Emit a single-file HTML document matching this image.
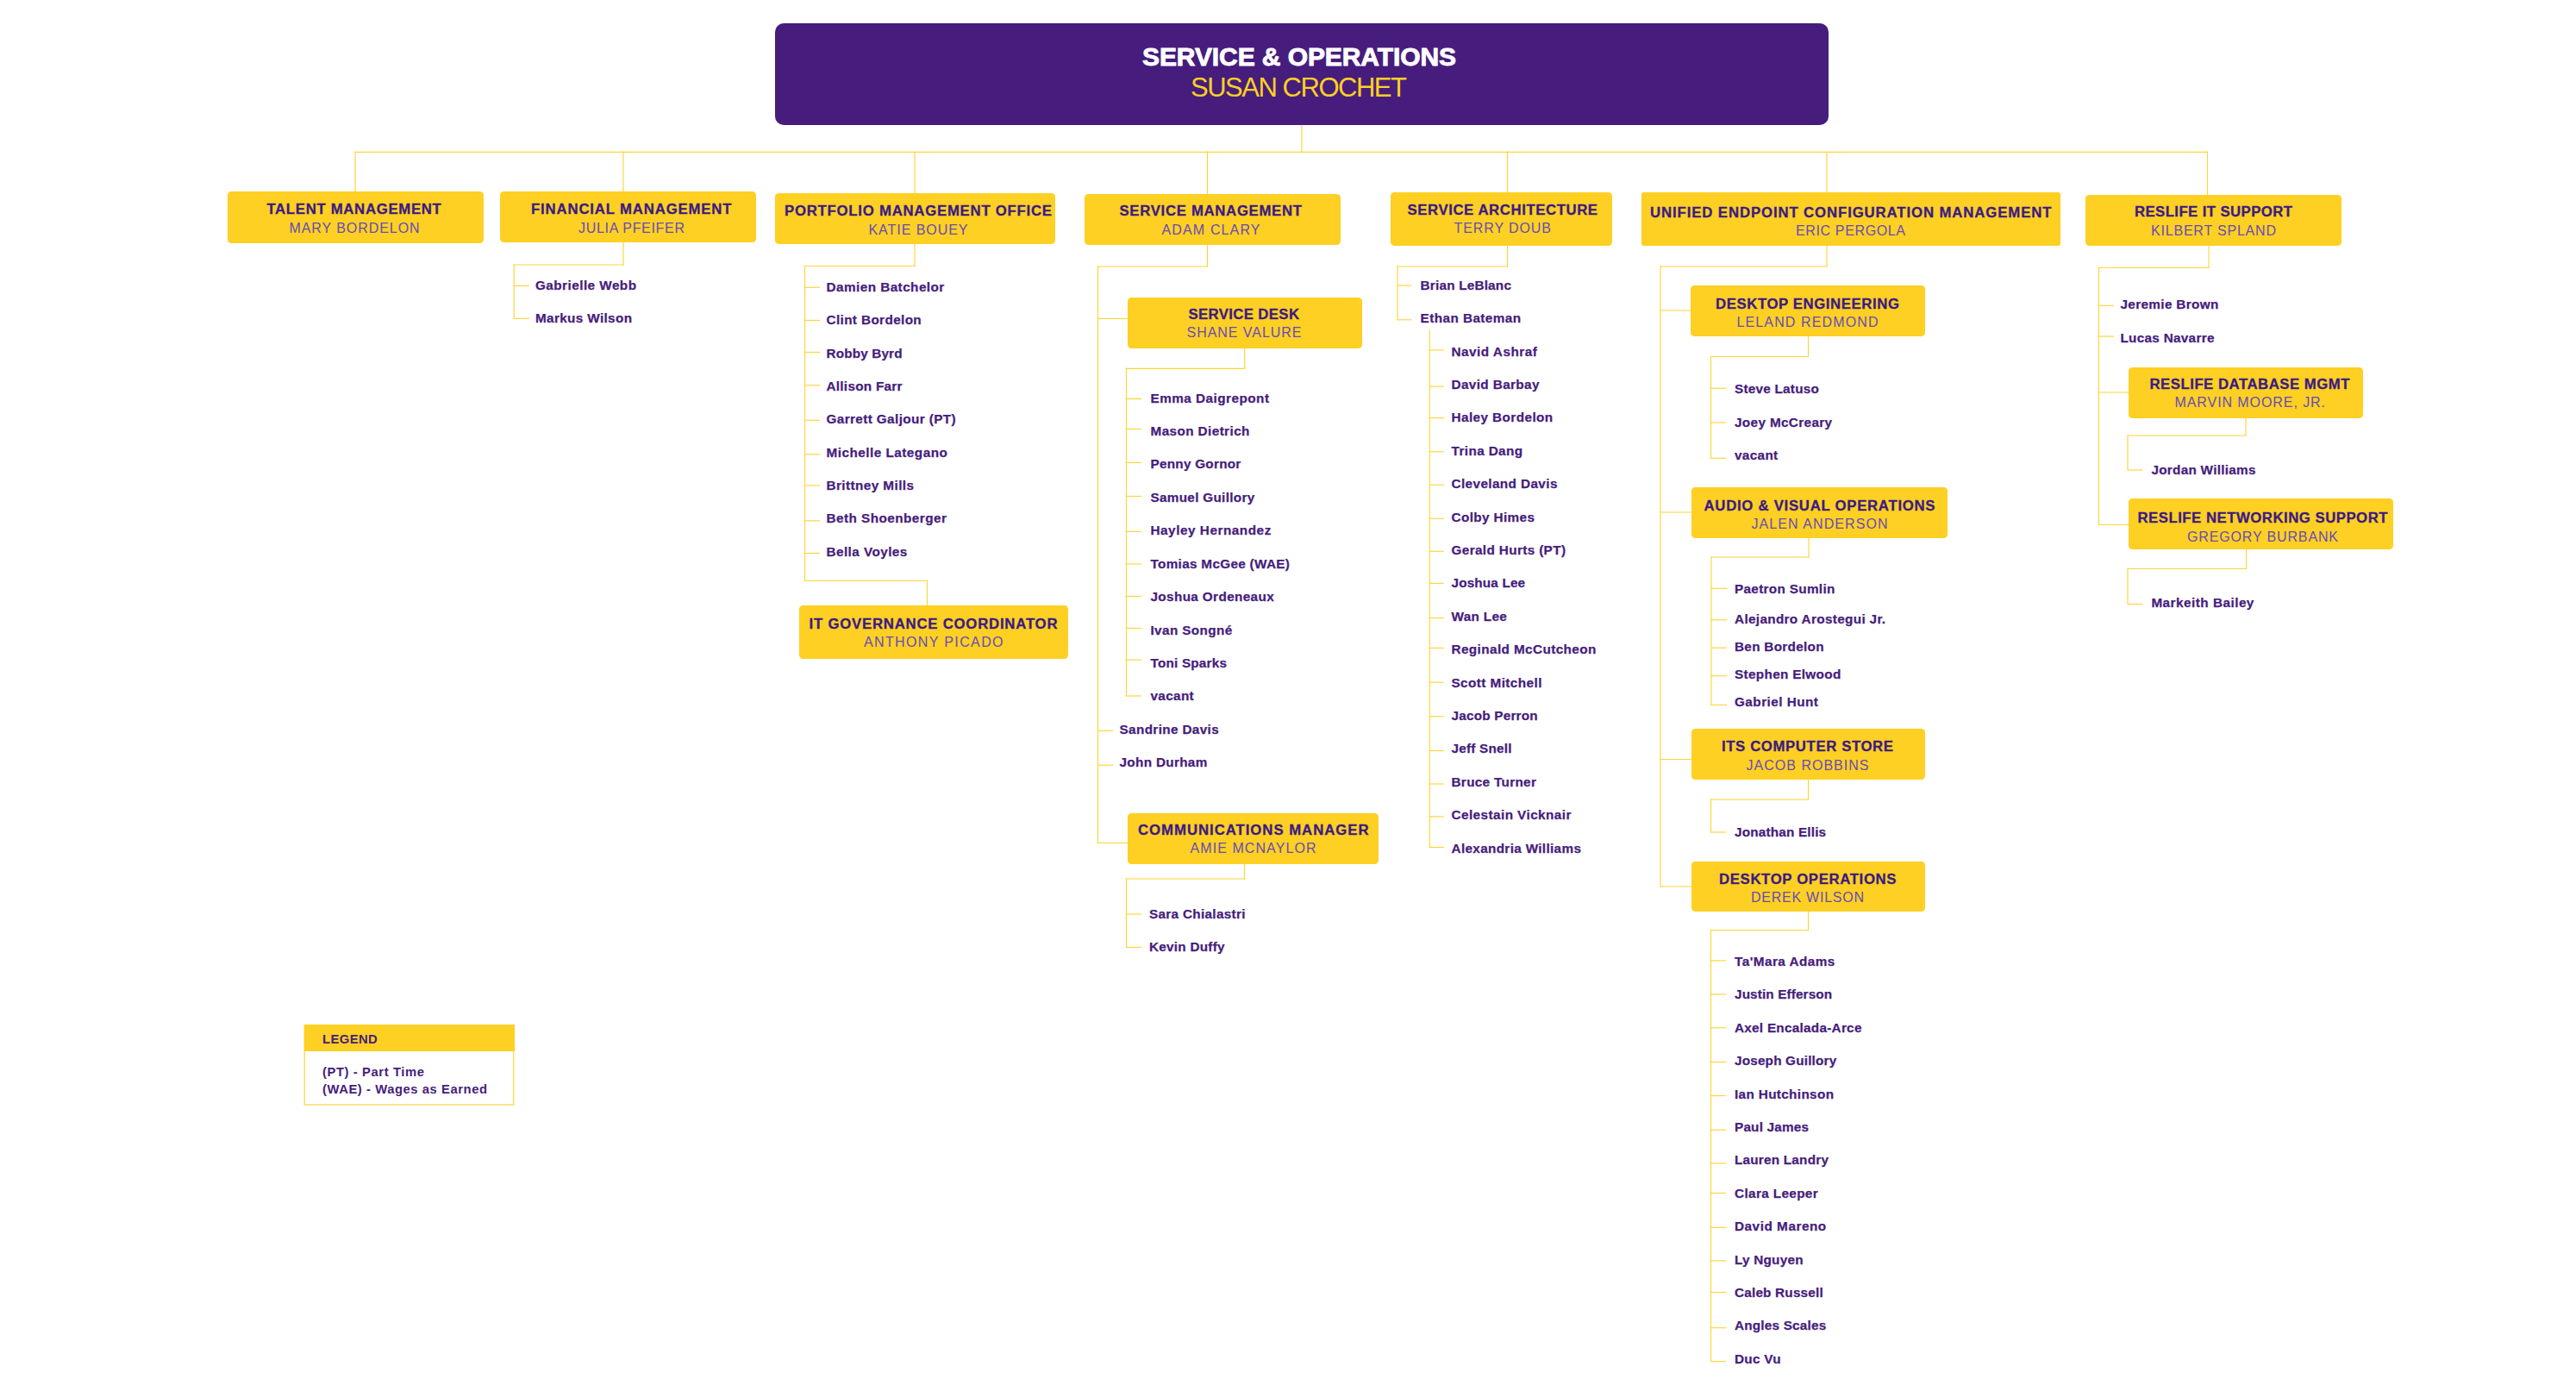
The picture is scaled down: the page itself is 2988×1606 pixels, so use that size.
<!DOCTYPE html>
<html lang="en"><head><meta charset="utf-8"><title>Service &amp; Operations Org Chart</title>
<style>
html,body{margin:0;padding:0;background:#fff}
body{width:2988px;height:1606px;position:relative;overflow:hidden;font-family:"Liberation Sans",sans-serif}
#lines{position:absolute;left:0;top:0}
.b{position:absolute;background:#FDD023;border-radius:4.5px}
.top{position:absolute;background:#461D7C;border-radius:10px}
.t{position:absolute;white-space:nowrap;line-height:1;margin:0}
.legend{position:absolute;left:352.5px;top:1188px;width:244px;height:93.6px}
.legend .h{position:absolute;left:0;top:0;width:244px;height:30.9px;background:#FDD023}
</style></head><body>

<svg id="lines" width="2988" height="1606" viewBox="0 0 2988 1606">
<g stroke="#FDD436" stroke-width="1.15" stroke-linecap="square" fill="none">
<line x1="1510" y1="145" x2="1510" y2="176.3"/>
<line x1="412" y1="176.3" x2="2560.5" y2="176.3"/>
<line x1="412" y1="176" x2="412" y2="222"/>
<line x1="723" y1="176" x2="723" y2="222"/>
<line x1="1061" y1="176" x2="1061" y2="224"/>
<line x1="1400.5" y1="176" x2="1400.5" y2="225"/>
<line x1="1748.5" y1="176" x2="1748.5" y2="223"/>
<line x1="2119" y1="176" x2="2119" y2="223"/>
<line x1="2560.5" y1="176" x2="2560.5" y2="226"/>
<line x1="723" y1="281" x2="723" y2="307"/>
<line x1="596.2" y1="307" x2="723" y2="307"/>
<line x1="596.2" y1="307" x2="596.2" y2="369.5"/>
<line x1="1061" y1="283" x2="1061" y2="308.5"/>
<line x1="933.5" y1="308.5" x2="1061" y2="308.5"/>
<line x1="933.5" y1="308.5" x2="933.5" y2="673.5"/>
<line x1="933.5" y1="673.5" x2="1075.5" y2="673.5"/>
<line x1="1075.5" y1="673.5" x2="1075.5" y2="702"/>
<line x1="1400.5" y1="283.5" x2="1400.5" y2="309"/>
<line x1="1273.5" y1="309" x2="1400.5" y2="309"/>
<line x1="1273.5" y1="309" x2="1273.5" y2="977.5"/>
<line x1="1273.5" y1="369.5" x2="1308" y2="369.5"/>
<line x1="1273.5" y1="977.5" x2="1308" y2="977.5"/>
<line x1="1443.6" y1="403.5" x2="1443.6" y2="427.3"/>
<line x1="1306.5" y1="427.3" x2="1443.6" y2="427.3"/>
<line x1="1306.5" y1="427.3" x2="1306.5" y2="807"/>
<line x1="1443.5" y1="1001.5" x2="1443.5" y2="1019"/>
<line x1="1306.5" y1="1019" x2="1443.5" y2="1019"/>
<line x1="1306.5" y1="1019" x2="1306.5" y2="1098.5"/>
<line x1="1748.5" y1="284.5" x2="1748.5" y2="309"/>
<line x1="1621" y1="309" x2="1748.5" y2="309"/>
<line x1="1621" y1="309" x2="1621" y2="370.8"/>
<line x1="1658.3" y1="383.2" x2="1658.3" y2="982.5"/>
<line x1="2119" y1="284.5" x2="2119" y2="309"/>
<line x1="1926" y1="309" x2="2119" y2="309"/>
<line x1="1926" y1="309" x2="1926" y2="1028"/>
<line x1="1926" y1="360" x2="1961" y2="360"/>
<line x1="1926" y1="594" x2="1962" y2="594"/>
<line x1="1926" y1="880.5" x2="1961.5" y2="880.5"/>
<line x1="1926" y1="1028" x2="1961.5" y2="1028"/>
<line x1="2097.5" y1="390" x2="2097.5" y2="413.5"/>
<line x1="1984.5" y1="413.5" x2="2097.5" y2="413.5"/>
<line x1="1984.5" y1="413.5" x2="1984.5" y2="531.3"/>
<line x1="2098" y1="623.5" x2="2098" y2="646"/>
<line x1="1985" y1="646" x2="2098" y2="646"/>
<line x1="1985" y1="646" x2="1985" y2="817.4"/>
<line x1="2097.5" y1="903.5" x2="2097.5" y2="927"/>
<line x1="1984.5" y1="927" x2="2097.5" y2="927"/>
<line x1="1984.5" y1="927" x2="1984.5" y2="965"/>
<line x1="2097.5" y1="1057" x2="2097.5" y2="1078.5"/>
<line x1="1984.5" y1="1078.5" x2="2097.5" y2="1078.5"/>
<line x1="1984.5" y1="1078.5" x2="1984.5" y2="1578.5"/>
<line x1="2562" y1="284.5" x2="2562" y2="310.5"/>
<line x1="2434.5" y1="310.5" x2="2562" y2="310.5"/>
<line x1="2434.5" y1="310.5" x2="2434.5" y2="608.5"/>
<line x1="2434.5" y1="455" x2="2469" y2="455"/>
<line x1="2434.5" y1="608.5" x2="2469" y2="608.5"/>
<line x1="2605" y1="484.5" x2="2605" y2="505"/>
<line x1="2468" y1="505" x2="2605" y2="505"/>
<line x1="2468" y1="505" x2="2468" y2="545"/>
<line x1="2605.5" y1="636.5" x2="2605.5" y2="659.5"/>
<line x1="2468" y1="659.5" x2="2605.5" y2="659.5"/>
<line x1="2468" y1="659.5" x2="2468" y2="700.5"/>
</g>
<g stroke="#FDD22E" stroke-width="1.1" fill="none">
<line x1="596.2" y1="331.5" x2="614" y2="331.5"/>
<line x1="596.2" y1="369.3" x2="614" y2="369.3"/>
<line x1="933.5" y1="333.3" x2="951" y2="333.3"/>
<line x1="933.5" y1="371.4" x2="951" y2="371.4"/>
<line x1="933.5" y1="408.4" x2="951" y2="408.4"/>
<line x1="933.5" y1="446.8" x2="951" y2="446.8"/>
<line x1="933.5" y1="487.3" x2="951" y2="487.3"/>
<line x1="933.5" y1="526.8" x2="951" y2="526.8"/>
<line x1="933.5" y1="562.9" x2="951" y2="562.9"/>
<line x1="933.5" y1="603.9" x2="951" y2="603.9"/>
<line x1="933.5" y1="641.5" x2="951" y2="641.5"/>
<line x1="1273.5" y1="847.3" x2="1291.5" y2="847.3"/>
<line x1="1273.5" y1="887.2" x2="1291.5" y2="887.2"/>
<line x1="1306.5" y1="462.5" x2="1324" y2="462.5"/>
<line x1="1306.5" y1="497.4" x2="1324" y2="497.4"/>
<line x1="1306.5" y1="536.4" x2="1324" y2="536.4"/>
<line x1="1306.5" y1="575.4" x2="1324" y2="575.4"/>
<line x1="1306.5" y1="616.4" x2="1324" y2="616.4"/>
<line x1="1306.5" y1="653.9" x2="1324" y2="653.9"/>
<line x1="1306.5" y1="691.5" x2="1324" y2="691.5"/>
<line x1="1306.5" y1="728.5" x2="1324" y2="728.5"/>
<line x1="1306.5" y1="765.1" x2="1324" y2="765.1"/>
<line x1="1306.5" y1="807" x2="1324" y2="807"/>
<line x1="1306.5" y1="1060" x2="1324" y2="1060"/>
<line x1="1306.5" y1="1098.5" x2="1324" y2="1098.5"/>
<line x1="1621" y1="331" x2="1637.5" y2="331"/>
<line x1="1621" y1="370.8" x2="1637.5" y2="370.8"/>
<line x1="1658.3" y1="405.9" x2="1674.7" y2="405.9"/>
<line x1="1658.3" y1="448.1" x2="1674.7" y2="448.1"/>
<line x1="1658.3" y1="484.6" x2="1674.7" y2="484.6"/>
<line x1="1658.3" y1="523.8" x2="1674.7" y2="523.8"/>
<line x1="1658.3" y1="562.2" x2="1674.7" y2="562.2"/>
<line x1="1658.3" y1="601.2" x2="1674.7" y2="601.2"/>
<line x1="1658.3" y1="639.3" x2="1674.7" y2="639.3"/>
<line x1="1658.3" y1="676.4" x2="1674.7" y2="676.4"/>
<line x1="1658.3" y1="716.6" x2="1674.7" y2="716.6"/>
<line x1="1658.3" y1="751.4" x2="1674.7" y2="751.4"/>
<line x1="1658.3" y1="791.2" x2="1674.7" y2="791.2"/>
<line x1="1658.3" y1="830.7" x2="1674.7" y2="830.7"/>
<line x1="1658.3" y1="870.5" x2="1674.7" y2="870.5"/>
<line x1="1658.3" y1="909" x2="1674.7" y2="909"/>
<line x1="1658.3" y1="946.9" x2="1674.7" y2="946.9"/>
<line x1="1658.3" y1="982.5" x2="1674.7" y2="982.5"/>
<line x1="1984.5" y1="450.2" x2="2002" y2="450.2"/>
<line x1="1984.5" y1="490" x2="2002" y2="490"/>
<line x1="1984.5" y1="531.3" x2="2002" y2="531.3"/>
<line x1="1985" y1="682.3" x2="2003" y2="682.3"/>
<line x1="1985" y1="718.8" x2="2003" y2="718.8"/>
<line x1="1985" y1="751.2" x2="2003" y2="751.2"/>
<line x1="1985" y1="783.7" x2="2003" y2="783.7"/>
<line x1="1985" y1="817.4" x2="2003" y2="817.4"/>
<line x1="1984.5" y1="965" x2="2002" y2="965"/>
<line x1="1984.5" y1="1113.9" x2="2002" y2="1113.9"/>
<line x1="1984.5" y1="1153" x2="2002" y2="1153"/>
<line x1="1984.5" y1="1191.8" x2="2002" y2="1191.8"/>
<line x1="1984.5" y1="1231.5" x2="2002" y2="1231.5"/>
<line x1="1984.5" y1="1270.6" x2="2002" y2="1270.6"/>
<line x1="1984.5" y1="1310.2" x2="2002" y2="1310.2"/>
<line x1="1984.5" y1="1349" x2="2002" y2="1349"/>
<line x1="1984.5" y1="1383.5" x2="2002" y2="1383.5"/>
<line x1="1984.5" y1="1423.3" x2="2002" y2="1423.3"/>
<line x1="1984.5" y1="1461.9" x2="2002" y2="1461.9"/>
<line x1="1984.5" y1="1498.6" x2="2002" y2="1498.6"/>
<line x1="1984.5" y1="1539.7" x2="2002" y2="1539.7"/>
<line x1="1984.5" y1="1578.7" x2="2002" y2="1578.7"/>
<line x1="2434.5" y1="354.3" x2="2452" y2="354.3"/>
<line x1="2434.5" y1="390" x2="2452" y2="390"/>
<line x1="2468" y1="545" x2="2485.5" y2="545"/>
<line x1="2468" y1="700.5" x2="2485.5" y2="700.5"/>
</g><rect x="353.2" y="1188.7" width="242.6" height="92.3" fill="none" stroke="#FDD648" stroke-width="1.3"/></svg>
<div class="top" style="left:899px;top:27px;width:1222px;height:118px"></div>
<div class="b" style="left:264px;top:222.3px;width:297px;height:59.3px"></div>
<div class="b" style="left:580.3px;top:222.3px;width:296.7px;height:59.1px"></div>
<div class="b" style="left:899px;top:224px;width:325px;height:59px"></div>
<div class="b" style="left:1257.5px;top:225px;width:297px;height:58.5px"></div>
<div class="b" style="left:1612.5px;top:223px;width:257.5px;height:61.5px"></div>
<div class="b" style="left:1903.5px;top:223px;width:486px;height:61.5px;border-radius:2.3px"></div>
<div class="b" style="left:2419px;top:226px;width:296.5px;height:58.5px"></div>
<div class="b" style="left:927px;top:702px;width:311.5px;height:61.5px"></div>
<div class="b" style="left:1308px;top:345px;width:271.5px;height:58.5px"></div>
<div class="b" style="left:1308px;top:943px;width:291px;height:58.5px"></div>
<div class="b" style="left:1961px;top:331px;width:272px;height:59px"></div>
<div class="b" style="left:1962px;top:565px;width:296.5px;height:58.5px"></div>
<div class="b" style="left:1961.5px;top:845px;width:271.5px;height:58.5px"></div>
<div class="b" style="left:1961.5px;top:998.5px;width:271.5px;height:58.5px"></div>
<div class="b" style="left:2469px;top:426px;width:272px;height:58.5px"></div>
<div class="b" style="left:2469px;top:577.5px;width:307px;height:59px"></div>
<div class="legend"><div class="h"></div></div>
<div class="t" style="left:1325.00px;top:51.10px;font-size:30px;font-weight:700;color:#fff;letter-spacing:-0.086px;-webkit-text-stroke:0.9px #fff;">SERVICE &amp; OPERATIONS</div>
<div class="t" style="left:1381.00px;top:85.55px;font-size:31px;font-weight:400;color:#FDD023;letter-spacing:-1.475px;">SUSAN CROCHET</div>
<div class="t" style="left:309.40px;top:234.72px;font-size:16.75px;font-weight:700;color:#3C1A82;letter-spacing:0.689px;-webkit-text-stroke:0.3px #3C1A82;">TALENT MANAGEMENT</div>
<div class="t" style="left:335.40px;top:256.95px;font-size:16px;font-weight:400;color:#674BB6;letter-spacing:0.942px;">MARY BORDELON</div>
<div class="t" style="left:616.00px;top:235.02px;font-size:16.75px;font-weight:700;color:#3C1A82;letter-spacing:0.842px;-webkit-text-stroke:0.3px #3C1A82;">FINANCIAL MANAGEMENT</div>
<div class="t" style="left:671.00px;top:256.95px;font-size:16px;font-weight:400;color:#674BB6;letter-spacing:0.691px;">JULIA PFEIFER</div>
<div class="t" style="left:910.00px;top:236.72px;font-size:16.75px;font-weight:700;color:#3C1A82;letter-spacing:0.757px;-webkit-text-stroke:0.3px #3C1A82;">PORTFOLIO MANAGEMENT OFFICE</div>
<div class="t" style="left:1007.50px;top:258.65px;font-size:16px;font-weight:400;color:#674BB6;letter-spacing:0.948px;">KATIE BOUEY</div>
<div class="t" style="left:1298.50px;top:237.22px;font-size:16.75px;font-weight:700;color:#3C1A82;letter-spacing:0.688px;-webkit-text-stroke:0.3px #3C1A82;">SERVICE MANAGEMENT</div>
<div class="t" style="left:1347.50px;top:258.65px;font-size:16px;font-weight:400;color:#674BB6;letter-spacing:1.141px;">ADAM CLARY</div>
<div class="t" style="left:1632.50px;top:235.72px;font-size:16.75px;font-weight:700;color:#3C1A82;letter-spacing:0.584px;-webkit-text-stroke:0.3px #3C1A82;">SERVICE ARCHITECTURE</div>
<div class="t" style="left:1686.50px;top:256.85px;font-size:16px;font-weight:400;color:#674BB6;letter-spacing:0.908px;">TERRY DOUB</div>
<div class="t" style="left:1914.00px;top:238.62px;font-size:16.75px;font-weight:700;color:#3C1A82;letter-spacing:0.897px;-webkit-text-stroke:0.3px #3C1A82;">UNIFIED ENDPOINT CONFIGURATION MANAGEMENT</div>
<div class="t" style="left:2083.00px;top:259.85px;font-size:16px;font-weight:400;color:#674BB6;letter-spacing:0.634px;">ERIC PERGOLA</div>
<div class="t" style="left:2476.00px;top:238.22px;font-size:16.75px;font-weight:700;color:#3C1A82;letter-spacing:0.417px;-webkit-text-stroke:0.3px #3C1A82;">RESLIFE IT SUPPORT</div>
<div class="t" style="left:2495.00px;top:259.85px;font-size:16px;font-weight:400;color:#674BB6;letter-spacing:0.802px;">KILBERT SPLAND</div>
<div class="t" style="left:938.50px;top:715.72px;font-size:16.75px;font-weight:700;color:#3C1A82;letter-spacing:0.781px;-webkit-text-stroke:0.3px #3C1A82;">IT GOVERNANCE COORDINATOR</div>
<div class="t" style="left:1002.00px;top:736.85px;font-size:16px;font-weight:400;color:#674BB6;letter-spacing:1.367px;">ANTHONY PICADO</div>
<div class="t" style="left:1378.50px;top:356.72px;font-size:16.75px;font-weight:700;color:#3C1A82;letter-spacing:0.369px;-webkit-text-stroke:0.3px #3C1A82;">SERVICE DESK</div>
<div class="t" style="left:1376.50px;top:377.85px;font-size:16px;font-weight:400;color:#674BB6;letter-spacing:0.963px;">SHANE VALURE</div>
<div class="t" style="left:1320.00px;top:954.72px;font-size:16.75px;font-weight:700;color:#3C1A82;letter-spacing:0.967px;-webkit-text-stroke:0.3px #3C1A82;">COMMUNICATIONS MANAGER</div>
<div class="t" style="left:1380.50px;top:975.85px;font-size:16px;font-weight:400;color:#674BB6;letter-spacing:1.078px;">AMIE MCNAYLOR</div>
<div class="t" style="left:1990.00px;top:345.22px;font-size:16.75px;font-weight:700;color:#3C1A82;letter-spacing:0.595px;-webkit-text-stroke:0.3px #3C1A82;">DESKTOP ENGINEERING</div>
<div class="t" style="left:2014.50px;top:366.35px;font-size:16px;font-weight:400;color:#674BB6;letter-spacing:1.126px;">LELAND REDMOND</div>
<div class="t" style="left:1976.50px;top:578.72px;font-size:16.75px;font-weight:700;color:#3C1A82;letter-spacing:0.723px;-webkit-text-stroke:0.3px #3C1A82;">AUDIO &amp; VISUAL OPERATIONS</div>
<div class="t" style="left:2031.50px;top:599.85px;font-size:16px;font-weight:400;color:#674BB6;letter-spacing:1.073px;">JALEN ANDERSON</div>
<div class="t" style="left:1997.00px;top:858.22px;font-size:16.75px;font-weight:700;color:#3C1A82;letter-spacing:0.611px;-webkit-text-stroke:0.3px #3C1A82;">ITS COMPUTER STORE</div>
<div class="t" style="left:2025.50px;top:880.35px;font-size:16px;font-weight:400;color:#674BB6;letter-spacing:1.016px;">JACOB ROBBINS</div>
<div class="t" style="left:1994.00px;top:1011.72px;font-size:16.75px;font-weight:700;color:#3C1A82;letter-spacing:0.645px;-webkit-text-stroke:0.3px #3C1A82;">DESKTOP OPERATIONS</div>
<div class="t" style="left:2031.00px;top:1032.85px;font-size:16px;font-weight:400;color:#674BB6;letter-spacing:0.756px;">DEREK WILSON</div>
<div class="t" style="left:2493.50px;top:437.72px;font-size:16.75px;font-weight:700;color:#3C1A82;letter-spacing:0.511px;-webkit-text-stroke:0.3px #3C1A82;">RESLIFE DATABASE MGMT</div>
<div class="t" style="left:2522.50px;top:458.85px;font-size:16px;font-weight:400;color:#674BB6;letter-spacing:0.924px;">MARVIN MOORE, JR.</div>
<div class="t" style="left:2479.50px;top:593.22px;font-size:16.75px;font-weight:700;color:#3C1A82;letter-spacing:0.507px;-webkit-text-stroke:0.3px #3C1A82;">RESLIFE NETWORKING SUPPORT</div>
<div class="t" style="left:2537.00px;top:614.85px;font-size:16px;font-weight:400;color:#674BB6;letter-spacing:0.856px;">GREGORY BURBANK</div>
<div class="t" style="left:621.00px;top:322.75px;font-size:15.3px;font-weight:700;color:#461D7C;letter-spacing:0.456px;-webkit-text-stroke:0.25px #461D7C;">Gabrielle Webb</div>
<div class="t" style="left:621.00px;top:361.05px;font-size:15.3px;font-weight:700;color:#461D7C;letter-spacing:0.349px;-webkit-text-stroke:0.25px #461D7C;">Markus Wilson</div>
<div class="t" style="left:958.50px;top:324.75px;font-size:15.3px;font-weight:700;color:#461D7C;letter-spacing:0.449px;-webkit-text-stroke:0.25px #461D7C;">Damien Batchelor</div>
<div class="t" style="left:958.50px;top:363.25px;font-size:15.3px;font-weight:700;color:#461D7C;letter-spacing:0.371px;-webkit-text-stroke:0.25px #461D7C;">Clint Bordelon</div>
<div class="t" style="left:958.50px;top:401.65px;font-size:15.3px;font-weight:700;color:#461D7C;letter-spacing:0.146px;-webkit-text-stroke:0.25px #461D7C;">Robby Byrd</div>
<div class="t" style="left:958.50px;top:440.05px;font-size:15.3px;font-weight:700;color:#461D7C;letter-spacing:0.273px;-webkit-text-stroke:0.25px #461D7C;">Allison Farr</div>
<div class="t" style="left:958.50px;top:478.45px;font-size:15.3px;font-weight:700;color:#461D7C;letter-spacing:0.384px;-webkit-text-stroke:0.25px #461D7C;">Garrett Galjour (PT)</div>
<div class="t" style="left:958.50px;top:516.55px;font-size:15.3px;font-weight:700;color:#461D7C;letter-spacing:0.481px;-webkit-text-stroke:0.25px #461D7C;">Michelle Lategano</div>
<div class="t" style="left:958.50px;top:554.95px;font-size:15.3px;font-weight:700;color:#461D7C;letter-spacing:0.419px;-webkit-text-stroke:0.25px #461D7C;">Brittney Mills</div>
<div class="t" style="left:958.50px;top:593.35px;font-size:15.3px;font-weight:700;color:#461D7C;letter-spacing:0.454px;-webkit-text-stroke:0.25px #461D7C;">Beth Shoenberger</div>
<div class="t" style="left:958.50px;top:631.75px;font-size:15.3px;font-weight:700;color:#461D7C;letter-spacing:0.436px;-webkit-text-stroke:0.25px #461D7C;">Bella Voyles</div>
<div class="t" style="left:1334.50px;top:453.95px;font-size:15.3px;font-weight:700;color:#461D7C;letter-spacing:0.471px;-webkit-text-stroke:0.25px #461D7C;">Emma Daigrepont</div>
<div class="t" style="left:1334.50px;top:492.05px;font-size:15.3px;font-weight:700;color:#461D7C;letter-spacing:0.403px;-webkit-text-stroke:0.25px #461D7C;">Mason Dietrich</div>
<div class="t" style="left:1334.50px;top:530.45px;font-size:15.3px;font-weight:700;color:#461D7C;letter-spacing:0.255px;-webkit-text-stroke:0.25px #461D7C;">Penny Gornor</div>
<div class="t" style="left:1334.50px;top:568.85px;font-size:15.3px;font-weight:700;color:#461D7C;letter-spacing:0.302px;-webkit-text-stroke:0.25px #461D7C;">Samuel Guillory</div>
<div class="t" style="left:1334.50px;top:607.45px;font-size:15.3px;font-weight:700;color:#461D7C;letter-spacing:0.535px;-webkit-text-stroke:0.25px #461D7C;">Hayley Hernandez</div>
<div class="t" style="left:1334.50px;top:645.85px;font-size:15.3px;font-weight:700;color:#461D7C;letter-spacing:0.310px;-webkit-text-stroke:0.25px #461D7C;">Tomias McGee (WAE)</div>
<div class="t" style="left:1334.50px;top:684.35px;font-size:15.3px;font-weight:700;color:#461D7C;letter-spacing:0.365px;-webkit-text-stroke:0.25px #461D7C;">Joshua Ordeneaux</div>
<div class="t" style="left:1334.50px;top:722.55px;font-size:15.3px;font-weight:700;color:#461D7C;letter-spacing:0.375px;-webkit-text-stroke:0.25px #461D7C;">Ivan Songné</div>
<div class="t" style="left:1334.50px;top:760.75px;font-size:15.3px;font-weight:700;color:#461D7C;letter-spacing:0.198px;-webkit-text-stroke:0.25px #461D7C;">Toni Sparks</div>
<div class="t" style="left:1334.50px;top:799.45px;font-size:15.3px;font-weight:700;color:#461D7C;letter-spacing:0.346px;-webkit-text-stroke:0.25px #461D7C;">vacant</div>
<div class="t" style="left:1298.50px;top:837.85px;font-size:15.3px;font-weight:700;color:#461D7C;letter-spacing:0.359px;-webkit-text-stroke:0.25px #461D7C;">Sandrine Davis</div>
<div class="t" style="left:1298.50px;top:876.15px;font-size:15.3px;font-weight:700;color:#461D7C;letter-spacing:0.321px;-webkit-text-stroke:0.25px #461D7C;">John Durham</div>
<div class="t" style="left:1333.00px;top:1051.55px;font-size:15.3px;font-weight:700;color:#461D7C;letter-spacing:0.311px;-webkit-text-stroke:0.25px #461D7C;">Sara Chialastri</div>
<div class="t" style="left:1333.00px;top:1089.55px;font-size:15.3px;font-weight:700;color:#461D7C;letter-spacing:0.250px;-webkit-text-stroke:0.25px #461D7C;">Kevin Duffy</div>
<div class="t" style="left:1647.60px;top:322.75px;font-size:15.3px;font-weight:700;color:#461D7C;letter-spacing:0.203px;-webkit-text-stroke:0.25px #461D7C;">Brian LeBlanc</div>
<div class="t" style="left:1647.60px;top:361.15px;font-size:15.3px;font-weight:700;color:#461D7C;letter-spacing:0.428px;-webkit-text-stroke:0.25px #461D7C;">Ethan Bateman</div>
<div class="t" style="left:1683.50px;top:399.55px;font-size:15.3px;font-weight:700;color:#461D7C;letter-spacing:0.500px;-webkit-text-stroke:0.25px #461D7C;">Navid Ashraf</div>
<div class="t" style="left:1683.50px;top:437.95px;font-size:15.3px;font-weight:700;color:#461D7C;letter-spacing:0.384px;-webkit-text-stroke:0.25px #461D7C;">David Barbay</div>
<div class="t" style="left:1683.50px;top:476.35px;font-size:15.3px;font-weight:700;color:#461D7C;letter-spacing:0.423px;-webkit-text-stroke:0.25px #461D7C;">Haley Bordelon</div>
<div class="t" style="left:1683.50px;top:514.75px;font-size:15.3px;font-weight:700;color:#461D7C;letter-spacing:0.395px;-webkit-text-stroke:0.25px #461D7C;">Trina Dang</div>
<div class="t" style="left:1683.50px;top:553.15px;font-size:15.3px;font-weight:700;color:#461D7C;letter-spacing:0.397px;-webkit-text-stroke:0.25px #461D7C;">Cleveland Davis</div>
<div class="t" style="left:1683.50px;top:591.55px;font-size:15.3px;font-weight:700;color:#461D7C;letter-spacing:0.384px;-webkit-text-stroke:0.25px #461D7C;">Colby Himes</div>
<div class="t" style="left:1683.50px;top:629.95px;font-size:15.3px;font-weight:700;color:#461D7C;letter-spacing:0.366px;-webkit-text-stroke:0.25px #461D7C;">Gerald Hurts (PT)</div>
<div class="t" style="left:1683.50px;top:668.35px;font-size:15.3px;font-weight:700;color:#461D7C;letter-spacing:0.159px;-webkit-text-stroke:0.25px #461D7C;">Joshua Lee</div>
<div class="t" style="left:1683.50px;top:707.05px;font-size:15.3px;font-weight:700;color:#461D7C;letter-spacing:0.326px;-webkit-text-stroke:0.25px #461D7C;">Wan Lee</div>
<div class="t" style="left:1683.50px;top:745.25px;font-size:15.3px;font-weight:700;color:#461D7C;letter-spacing:0.399px;-webkit-text-stroke:0.25px #461D7C;">Reginald McCutcheon</div>
<div class="t" style="left:1683.50px;top:783.75px;font-size:15.3px;font-weight:700;color:#461D7C;letter-spacing:0.420px;-webkit-text-stroke:0.25px #461D7C;">Scott Mitchell</div>
<div class="t" style="left:1683.50px;top:822.25px;font-size:15.3px;font-weight:700;color:#461D7C;letter-spacing:0.221px;-webkit-text-stroke:0.25px #461D7C;">Jacob Perron</div>
<div class="t" style="left:1683.50px;top:860.45px;font-size:15.3px;font-weight:700;color:#461D7C;letter-spacing:0.220px;-webkit-text-stroke:0.25px #461D7C;">Jeff Snell</div>
<div class="t" style="left:1683.50px;top:898.95px;font-size:15.3px;font-weight:700;color:#461D7C;letter-spacing:0.316px;-webkit-text-stroke:0.25px #461D7C;">Bruce Turner</div>
<div class="t" style="left:1683.50px;top:937.45px;font-size:15.3px;font-weight:700;color:#461D7C;letter-spacing:0.434px;-webkit-text-stroke:0.25px #461D7C;">Celestain Vicknair</div>
<div class="t" style="left:1683.50px;top:975.65px;font-size:15.3px;font-weight:700;color:#461D7C;letter-spacing:0.334px;-webkit-text-stroke:0.25px #461D7C;">Alexandria Williams</div>
<div class="t" style="left:2012.00px;top:443.35px;font-size:15.3px;font-weight:700;color:#461D7C;letter-spacing:0.244px;-webkit-text-stroke:0.25px #461D7C;">Steve Latuso</div>
<div class="t" style="left:2012.00px;top:481.85px;font-size:15.3px;font-weight:700;color:#461D7C;letter-spacing:0.355px;-webkit-text-stroke:0.25px #461D7C;">Joey McCreary</div>
<div class="t" style="left:2012.00px;top:520.45px;font-size:15.3px;font-weight:700;color:#461D7C;letter-spacing:0.346px;-webkit-text-stroke:0.25px #461D7C;">vacant</div>
<div class="t" style="left:2012.00px;top:674.85px;font-size:15.3px;font-weight:700;color:#461D7C;letter-spacing:0.315px;-webkit-text-stroke:0.25px #461D7C;">Paetron Sumlin</div>
<div class="t" style="left:2012.00px;top:709.95px;font-size:15.3px;font-weight:700;color:#461D7C;letter-spacing:0.334px;-webkit-text-stroke:0.25px #461D7C;">Alejandro Arostegui Jr.</div>
<div class="t" style="left:2012.00px;top:742.25px;font-size:15.3px;font-weight:700;color:#461D7C;letter-spacing:0.300px;-webkit-text-stroke:0.25px #461D7C;">Ben Bordelon</div>
<div class="t" style="left:2012.00px;top:774.35px;font-size:15.3px;font-weight:700;color:#461D7C;letter-spacing:0.332px;-webkit-text-stroke:0.25px #461D7C;">Stephen Elwood</div>
<div class="t" style="left:2012.00px;top:806.15px;font-size:15.3px;font-weight:700;color:#461D7C;letter-spacing:0.464px;-webkit-text-stroke:0.25px #461D7C;">Gabriel Hunt</div>
<div class="t" style="left:2012.00px;top:956.75px;font-size:15.3px;font-weight:700;color:#461D7C;letter-spacing:0.184px;-webkit-text-stroke:0.25px #461D7C;">Jonathan Ellis</div>
<div class="t" style="left:2012.00px;top:1107.05px;font-size:15.3px;font-weight:700;color:#461D7C;letter-spacing:0.461px;-webkit-text-stroke:0.25px #461D7C;">Ta'Mara Adams</div>
<div class="t" style="left:2012.00px;top:1145.45px;font-size:15.3px;font-weight:700;color:#461D7C;letter-spacing:0.125px;-webkit-text-stroke:0.25px #461D7C;">Justin Efferson</div>
<div class="t" style="left:2012.00px;top:1183.95px;font-size:15.3px;font-weight:700;color:#461D7C;letter-spacing:0.268px;-webkit-text-stroke:0.25px #461D7C;">Axel Encalada-Arce</div>
<div class="t" style="left:2012.00px;top:1222.45px;font-size:15.3px;font-weight:700;color:#461D7C;letter-spacing:0.185px;-webkit-text-stroke:0.25px #461D7C;">Joseph Guillory</div>
<div class="t" style="left:2012.00px;top:1260.85px;font-size:15.3px;font-weight:700;color:#461D7C;letter-spacing:0.347px;-webkit-text-stroke:0.25px #461D7C;">Ian Hutchinson</div>
<div class="t" style="left:2012.00px;top:1299.15px;font-size:15.3px;font-weight:700;color:#461D7C;letter-spacing:0.201px;-webkit-text-stroke:0.25px #461D7C;">Paul James</div>
<div class="t" style="left:2012.00px;top:1337.35px;font-size:15.3px;font-weight:700;color:#461D7C;letter-spacing:0.221px;-webkit-text-stroke:0.25px #461D7C;">Lauren Landry</div>
<div class="t" style="left:2012.00px;top:1375.85px;font-size:15.3px;font-weight:700;color:#461D7C;letter-spacing:0.365px;-webkit-text-stroke:0.25px #461D7C;">Clara Leeper</div>
<div class="t" style="left:2012.00px;top:1414.25px;font-size:15.3px;font-weight:700;color:#461D7C;letter-spacing:0.535px;-webkit-text-stroke:0.25px #461D7C;">David Mareno</div>
<div class="t" style="left:2012.00px;top:1452.65px;font-size:15.3px;font-weight:700;color:#461D7C;letter-spacing:0.232px;-webkit-text-stroke:0.25px #461D7C;">Ly Nguyen</div>
<div class="t" style="left:2012.00px;top:1490.85px;font-size:15.3px;font-weight:700;color:#461D7C;letter-spacing:0.198px;-webkit-text-stroke:0.25px #461D7C;">Caleb Russell</div>
<div class="t" style="left:2012.00px;top:1529.35px;font-size:15.3px;font-weight:700;color:#461D7C;letter-spacing:0.205px;-webkit-text-stroke:0.25px #461D7C;">Angles Scales</div>
<div class="t" style="left:2012.00px;top:1567.75px;font-size:15.3px;font-weight:700;color:#461D7C;letter-spacing:0.292px;-webkit-text-stroke:0.25px #461D7C;">Duc Vu</div>
<div class="t" style="left:2459.40px;top:345.35px;font-size:15.3px;font-weight:700;color:#461D7C;letter-spacing:0.361px;-webkit-text-stroke:0.25px #461D7C;">Jeremie Brown</div>
<div class="t" style="left:2459.40px;top:383.55px;font-size:15.3px;font-weight:700;color:#461D7C;letter-spacing:0.296px;-webkit-text-stroke:0.25px #461D7C;">Lucas Navarre</div>
<div class="t" style="left:2495.40px;top:537.25px;font-size:15.3px;font-weight:700;color:#461D7C;letter-spacing:0.281px;-webkit-text-stroke:0.25px #461D7C;">Jordan Williams</div>
<div class="t" style="left:2495.40px;top:690.85px;font-size:15.3px;font-weight:700;color:#461D7C;letter-spacing:0.483px;-webkit-text-stroke:0.25px #461D7C;">Markeith Bailey</div>
<div class="t" style="left:374.00px;top:1198.02px;font-size:14.8px;font-weight:700;color:#461D7C;letter-spacing:0.406px;">LEGEND</div>
<div class="t" style="left:374.00px;top:1236.27px;font-size:14.8px;font-weight:700;color:#461D7C;letter-spacing:0.595px;">(PT) - Part Time</div>
<div class="t" style="left:374.00px;top:1256.37px;font-size:14.8px;font-weight:700;color:#461D7C;letter-spacing:0.559px;">(WAE) - Wages as Earned</div>
</body></html>
